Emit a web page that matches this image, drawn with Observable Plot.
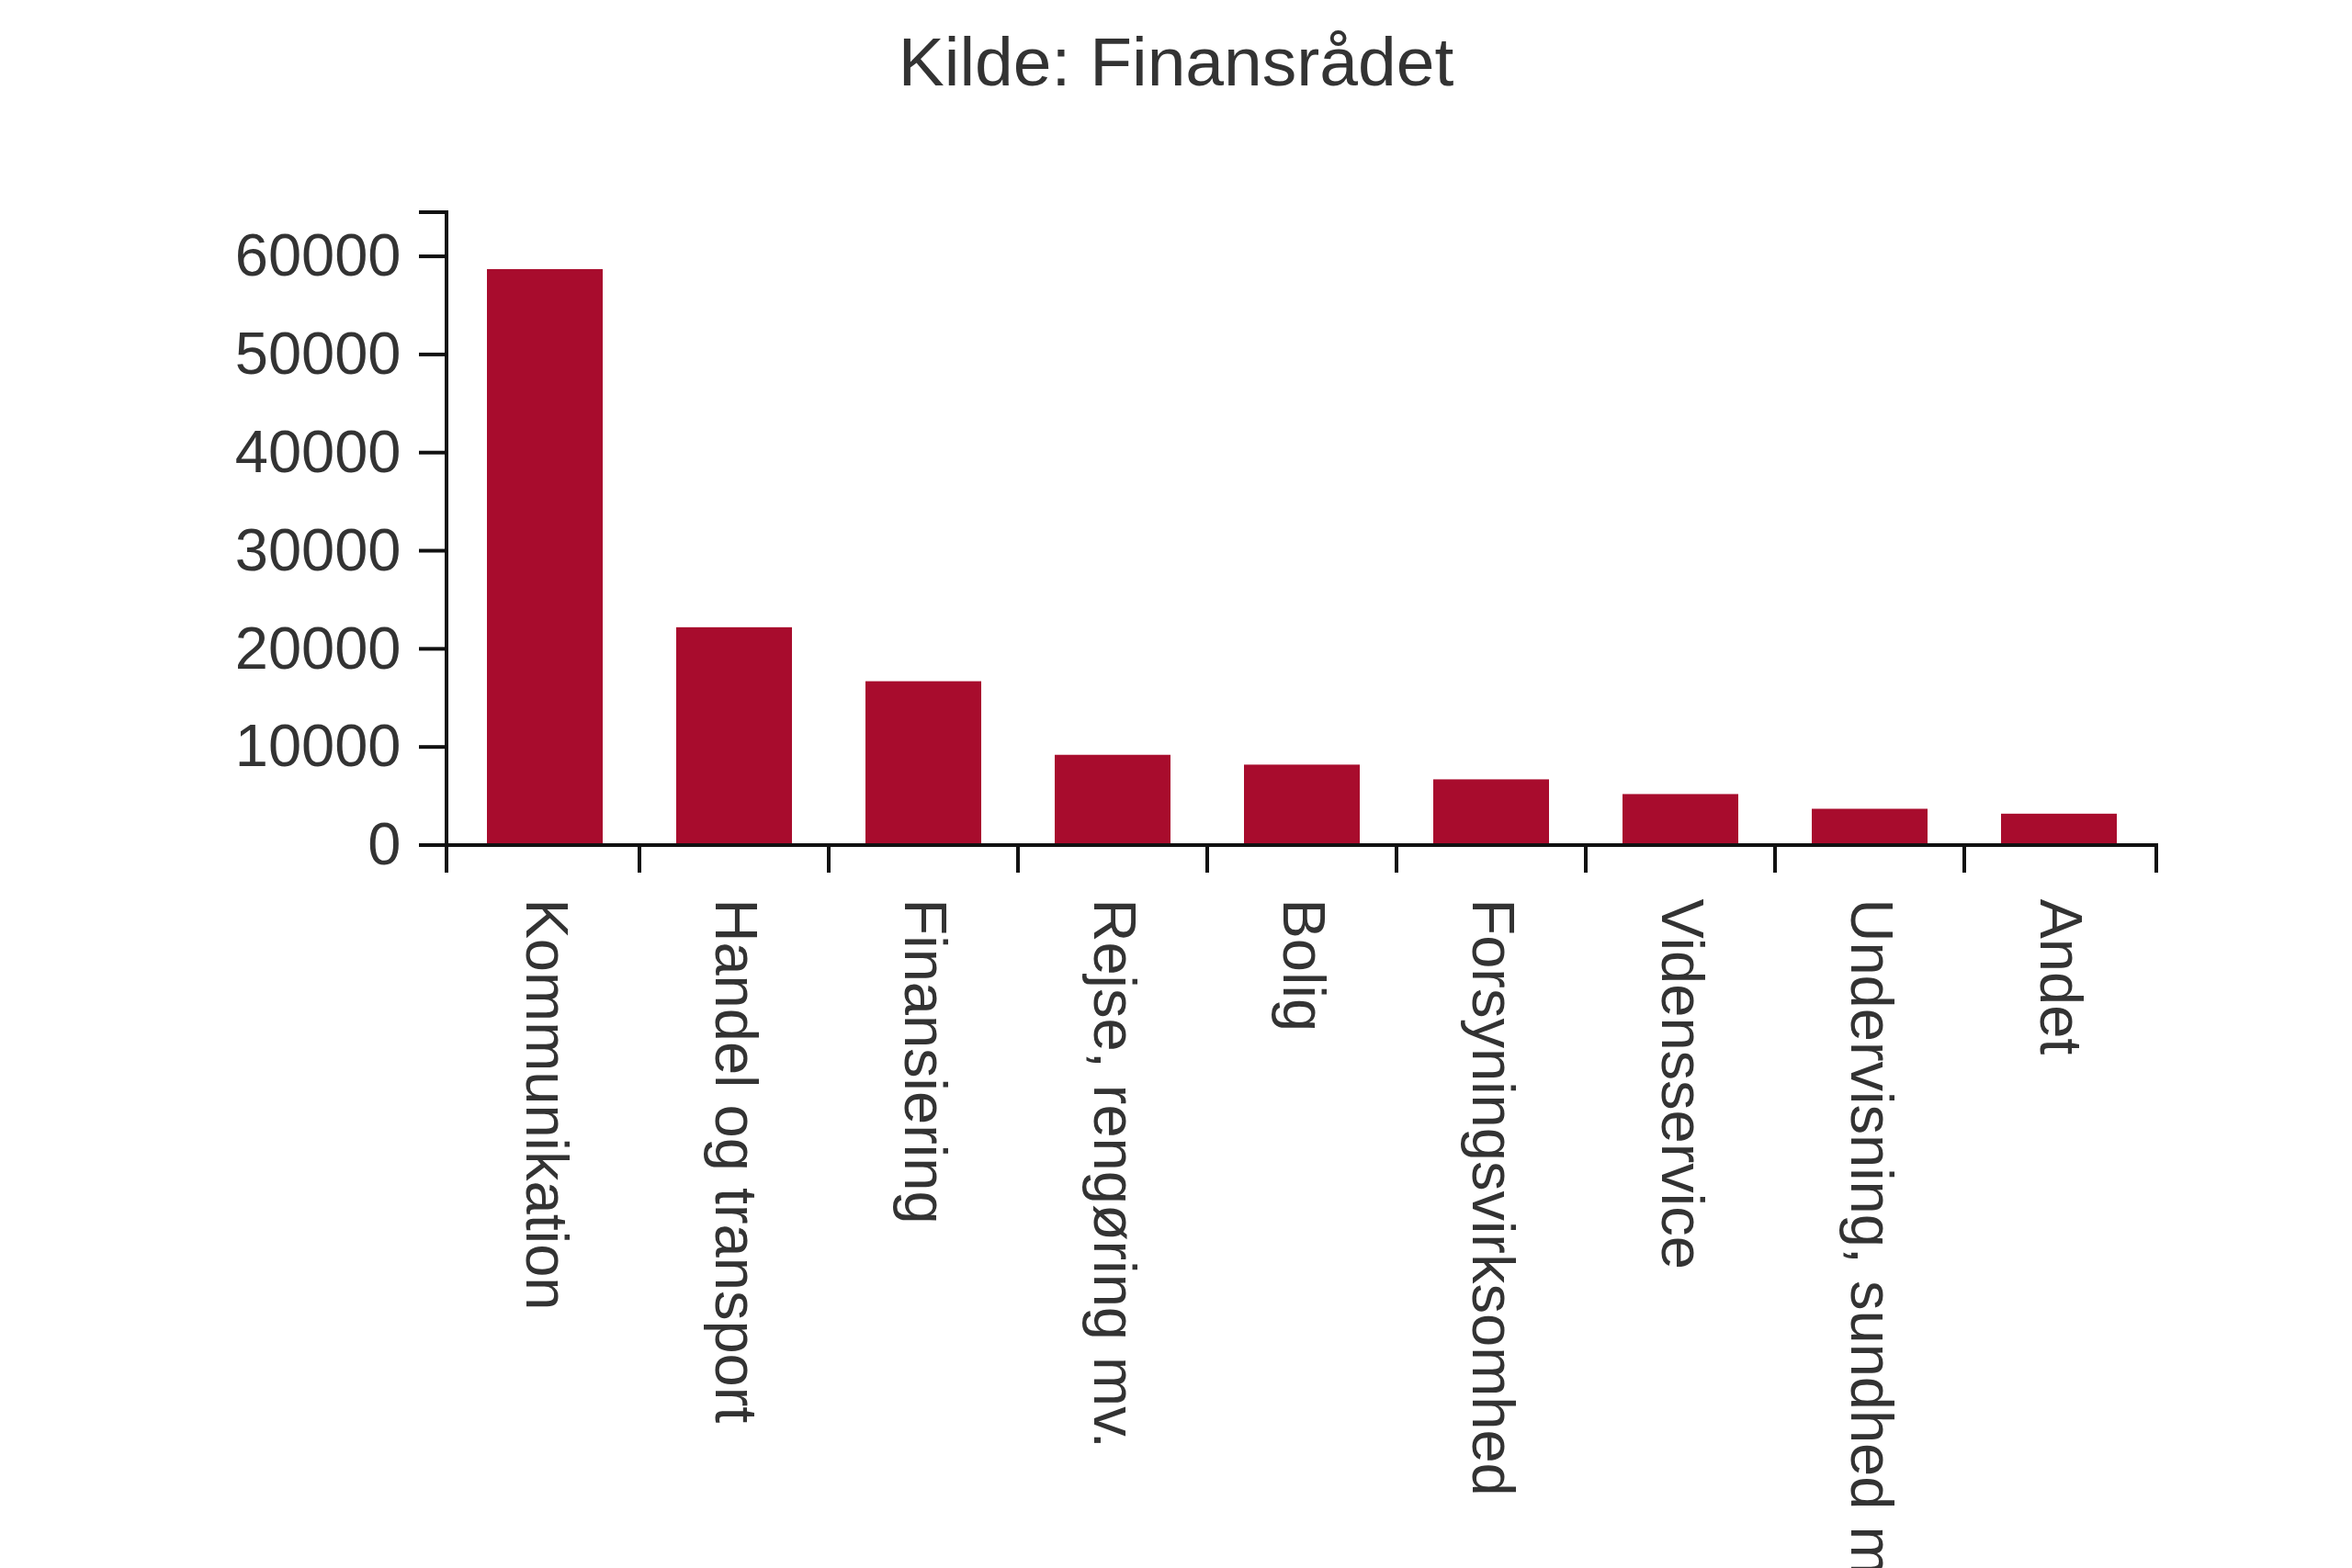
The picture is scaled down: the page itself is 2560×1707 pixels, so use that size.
<!DOCTYPE html>
<html>
<head>
<meta charset="utf-8">
<script src="https://cdn.jsdelivr.net/npm/d3@7"></script>
<script src="https://cdn.jsdelivr.net/npm/@observablehq/plot@0.6"></script>
<style>
  html, body { margin: 0; padding: 0; background: #fff; overflow: hidden; }
  body { width: 2560px; height: 1707px; }
  #title {
    font-family: "Liberation Sans", Arial, sans-serif;
    font-size: 75px;
    line-height: 86px;
    color: #333;
    text-align: center;
    padding-top: 24px;
    height: 116px;
  }
</style>
</head>
<body>
<div id="title">Kilde: Finansrådet</div>
<div id="chart"></div>
<script>
// ---- data ----
const categories = [
  "Kommunikation",
  "Handel og transport",
  "Finansiering",
  "Rejse, rengøring mv.",
  "Bolig",
  "Forsyningsvirksomhed",
  "Vidensservice",
  "Undervisning, sundhed mv.",
  "Andet"
];
const values = [58700, 22200, 16700, 9200, 8200, 6700, 5200, 3700, 3200];
const yTicks = [0, 10000, 20000, 30000, 40000, 50000, 60000];
const yMax = 64500;

const barColor = "#a80c2d";
const axisColor = "#111";

const table = categories.map((c, i) => ({category: c, value: values[i]}));

// axis lines, y ticks and x band-boundary ticks, placed through the scales
function axisLines(index, scales, values_, dims) {
  const x = scales.x, y = scales.y;
  const g = d3.create("svg:g")
    .attr("fill", "none")
    .attr("stroke", axisColor)
    .attr("stroke-width", 4);
  const left = dims.marginLeft;
  const right = dims.width - dims.marginRight;
  const y0 = y(0);
  const yTop = y(yMax);
  const tick = 30;
  // y axis domain line with outer tick
  g.append("path").attr("d", `M${left - tick},${yTop}H${left}V${y0}`);
  // y ticks
  for (const t of yTicks) {
    g.append("path").attr("d", `M${left - tick},${y(t)}H${left}`);
  }
  // x axis line with outer ticks
  g.append("path").attr("d", `M${left},${y0 + tick}V${y0}H${right}V${y0 + tick}`);
  // x band boundaries
  const step = typeof x.step === "function" ? x.step() : (right - left) / categories.length;
  const bw = typeof x.bandwidth === "function" ? x.bandwidth() : step * 0.61;
  const start = x(categories[0]) - (step - bw) / 2;
  for (let i = 1; i < categories.length; ++i) {
    const bx = start + i * step;
    g.append("path").attr("d", `M${bx},${y0}V${y0 + tick}`);
  }
  return g.node();
}

const chart = Plot.plot({
  width: 2560,
  height: 1567,
  marginTop: 91,
  marginBottom: 787,
  marginLeft: 486,
  marginRight: 213,
  style: {
    fontFamily: "'Liberation Sans', Arial, sans-serif",
    fontSize: "65px",
    color: "#333",
    background: "white",
    overflow: "hidden"
  },
  x: {
    domain: categories,
    paddingInner: 0.39,
    paddingOuter: 0.195,
    tickSize: 0,
    tickPadding: 58,
    tickRotate: 90,
    label: null
  },
  y: {
    domain: [0, yMax],
    ticks: yTicks,
    tickSize: 0,
    tickPadding: 50,
    tickFormat: d => String(d),
    label: null
  },
  marks: [
    Plot.barY(table, {x: "category", y: "value", fill: barColor}),
    axisLines
  ]
});
document.getElementById("chart").appendChild(chart);
</script>
</body>
</html>
